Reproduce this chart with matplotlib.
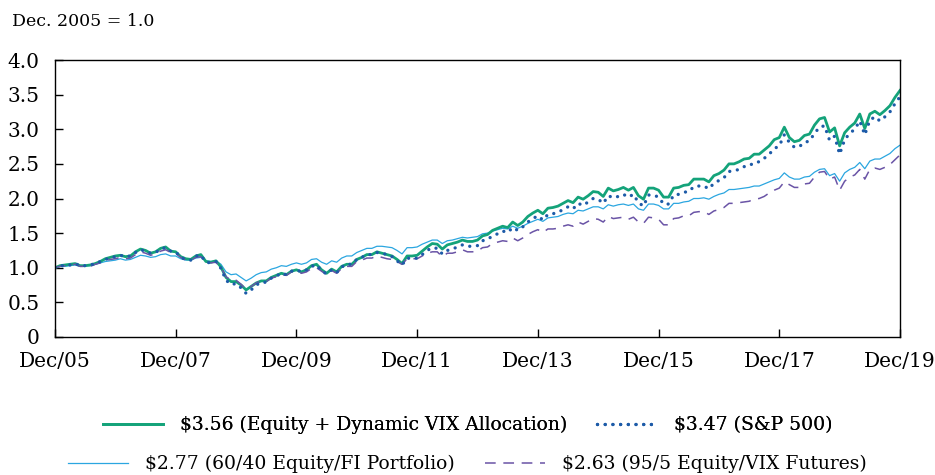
import matplotlib
matplotlib.use("Agg")
import matplotlib.pyplot as plt
import numpy as np

plt.rcParams['font.family'] = ['DejaVu Serif']

# monthly values, Dec 2005 .. Dec 2019 (Dec. 2005 = 1.0)
tick_labels = ['Dec/05', 'Dec/07', 'Dec/09', 'Dec/11', 'Dec/13', 'Dec/15', 'Dec/17', 'Dec/19']

sp500 = [
    1.00,
    1.03, 1.03, 1.04, 1.06, 1.03, 1.03, 1.04, 1.06, 1.09, 1.12, 1.14, 1.16,
    1.18, 1.16, 1.17, 1.22, 1.26, 1.24, 1.21, 1.22, 1.27, 1.29, 1.24, 1.23,
    1.15, 1.12, 1.11, 1.17, 1.18, 1.08, 1.07, 1.09, 0.99, 0.82, 0.76, 0.77,
    0.71, 0.63, 0.68, 0.75, 0.79, 0.79, 0.85, 0.88, 0.92, 0.90, 0.95, 0.97,
    0.94, 0.97, 1.02, 1.04, 0.96, 0.91, 0.97, 0.93, 1.01, 1.05, 1.05, 1.12,
    1.15, 1.19, 1.19, 1.22, 1.21, 1.19, 1.16, 1.10, 1.04, 1.14, 1.13, 1.14,
    1.19, 1.25, 1.29, 1.28, 1.20, 1.25, 1.27, 1.30, 1.33, 1.31, 1.31, 1.32,
    1.39, 1.41, 1.46, 1.49, 1.53, 1.51, 1.58, 1.54, 1.59, 1.66, 1.71, 1.75,
    1.69, 1.77, 1.78, 1.80, 1.84, 1.88, 1.85, 1.93, 1.90, 1.95, 2.00, 1.99,
    1.93, 2.04, 2.01, 2.03, 2.06, 2.02, 2.06, 1.94, 1.89, 2.05, 2.05, 2.02,
    1.92, 1.92, 2.05, 2.06, 2.09, 2.10, 2.17, 2.18, 2.18, 2.14, 2.22, 2.26,
    2.30, 2.39, 2.40, 2.42, 2.46, 2.47, 2.52, 2.53, 2.58, 2.64, 2.72, 2.76,
    2.92, 2.81, 2.74, 2.75, 2.81, 2.83, 2.94, 3.03, 3.05, 2.84, 2.90, 2.64,
    2.85, 2.94, 3.00, 3.12, 2.92, 3.13, 3.18, 3.12, 3.18, 3.25, 3.37, 3.47,
]

equity_vix = [
    1.00,
    1.03, 1.04, 1.05, 1.06, 1.03, 1.03, 1.04, 1.06, 1.09, 1.13, 1.15, 1.17,
    1.18, 1.16, 1.17, 1.23, 1.27, 1.25, 1.21, 1.23, 1.28, 1.30, 1.24, 1.23,
    1.16, 1.13, 1.12, 1.17, 1.19, 1.09, 1.08, 1.10, 1.01, 0.86, 0.80, 0.80,
    0.75, 0.68, 0.73, 0.78, 0.81, 0.81, 0.86, 0.89, 0.92, 0.90, 0.95, 0.97,
    0.94, 0.97, 1.03, 1.05, 0.97, 0.92, 0.98, 0.94, 1.02, 1.05, 1.05, 1.12,
    1.15, 1.19, 1.19, 1.23, 1.21, 1.19, 1.17, 1.12, 1.06, 1.17, 1.17, 1.18,
    1.24, 1.30, 1.35, 1.34, 1.27, 1.33, 1.35, 1.37, 1.40, 1.38, 1.38, 1.40,
    1.46, 1.48, 1.54, 1.57, 1.60, 1.58, 1.66, 1.61, 1.66, 1.74, 1.79, 1.83,
    1.78, 1.86, 1.87, 1.89, 1.93, 1.97, 1.94, 2.02, 1.99, 2.04, 2.10, 2.09,
    2.03, 2.15, 2.11, 2.13, 2.16, 2.12, 2.16, 2.04, 1.99, 2.15, 2.15, 2.12,
    2.02, 2.02, 2.15, 2.16, 2.19, 2.20, 2.28, 2.28, 2.28, 2.24, 2.33, 2.36,
    2.41, 2.50, 2.50, 2.53, 2.57, 2.58, 2.64, 2.64, 2.70, 2.76, 2.85, 2.88,
    3.03, 2.88, 2.82, 2.84, 2.91, 2.93, 3.06, 3.15, 3.17, 2.96, 3.02, 2.76,
    2.95, 3.03, 3.09, 3.22, 3.01, 3.22, 3.26, 3.21, 3.27, 3.34, 3.46, 3.56,
]

sixty_forty = [
    1.00,
    1.02, 1.02, 1.03, 1.04, 1.02, 1.03, 1.03, 1.05, 1.07, 1.09, 1.10, 1.11,
    1.13, 1.11, 1.12, 1.15, 1.18, 1.17, 1.15, 1.16, 1.19, 1.20, 1.17, 1.17,
    1.13, 1.11, 1.11, 1.14, 1.15, 1.10, 1.09, 1.10, 1.05, 0.94, 0.90, 0.91,
    0.86, 0.81, 0.85, 0.90, 0.93, 0.94, 0.98, 1.00, 1.03, 1.02, 1.05, 1.07,
    1.05, 1.07, 1.12, 1.13, 1.08, 1.05, 1.10, 1.08, 1.14, 1.17, 1.17, 1.22,
    1.25, 1.28, 1.28, 1.31, 1.31, 1.30, 1.29, 1.25, 1.20, 1.29, 1.29, 1.30,
    1.34, 1.37, 1.40, 1.40, 1.35, 1.39, 1.40, 1.42, 1.44, 1.43, 1.44, 1.45,
    1.49, 1.50, 1.53, 1.55, 1.57, 1.56, 1.60, 1.57, 1.60, 1.64, 1.67, 1.70,
    1.67, 1.72, 1.73, 1.74, 1.77, 1.79, 1.78, 1.83, 1.82, 1.85, 1.88, 1.88,
    1.85, 1.91, 1.89, 1.91, 1.92, 1.90, 1.92, 1.85, 1.83, 1.92, 1.92, 1.90,
    1.85, 1.85, 1.93, 1.93, 1.95, 1.96, 2.00, 2.00, 2.01, 1.99, 2.03, 2.06,
    2.08, 2.13, 2.13, 2.14, 2.15, 2.16, 2.18, 2.18, 2.21, 2.24, 2.27, 2.29,
    2.37, 2.31, 2.28, 2.28, 2.31, 2.32, 2.38, 2.42, 2.43, 2.33, 2.36, 2.25,
    2.37, 2.42, 2.45, 2.52, 2.43, 2.54, 2.57, 2.57, 2.61, 2.65, 2.72, 2.77,
]

equity_vix_futures = [
    1.00,
    1.02, 1.03, 1.04, 1.05, 1.02, 1.02, 1.02, 1.05, 1.07, 1.10, 1.12, 1.13,
    1.15, 1.13, 1.14, 1.19, 1.23, 1.21, 1.18, 1.20, 1.24, 1.26, 1.22, 1.21,
    1.15, 1.11, 1.11, 1.15, 1.16, 1.08, 1.07, 1.08, 1.00, 0.87, 0.82, 0.82,
    0.76, 0.69, 0.73, 0.78, 0.81, 0.80, 0.85, 0.87, 0.90, 0.89, 0.94, 0.95,
    0.92, 0.94, 0.99, 1.00, 0.95, 0.90, 0.96, 0.92, 0.99, 1.02, 1.02, 1.09,
    1.11, 1.14, 1.14, 1.17, 1.15, 1.13, 1.12, 1.09, 1.05, 1.13, 1.13, 1.13,
    1.17, 1.21, 1.23, 1.23, 1.16, 1.21, 1.21, 1.23, 1.26, 1.23, 1.23, 1.24,
    1.29, 1.30, 1.35, 1.37, 1.39, 1.38, 1.43, 1.39, 1.43, 1.48, 1.52, 1.55,
    1.51, 1.56, 1.56, 1.57, 1.60, 1.62, 1.60, 1.66, 1.63, 1.67, 1.71, 1.70,
    1.66, 1.74, 1.71, 1.72, 1.73, 1.70, 1.73, 1.66, 1.64, 1.73, 1.72, 1.70,
    1.62, 1.62, 1.71, 1.72, 1.75, 1.75, 1.80, 1.81, 1.81, 1.77, 1.82, 1.84,
    1.87, 1.93, 1.93, 1.94, 1.95, 1.96, 1.99, 2.00, 2.03, 2.08, 2.12, 2.15,
    2.24, 2.20, 2.16, 2.16, 2.21, 2.22, 2.31, 2.38, 2.39, 2.28, 2.31, 2.12,
    2.25, 2.31, 2.34, 2.42, 2.28, 2.42, 2.44, 2.42, 2.45, 2.49, 2.56, 2.63,
]

legend_labels = ['$3.56 (Equity + Dynamic VIX Allocation)', '$3.47 (S&P 500)',
                 '$2.77 (60/40 Equity/FI Portfolio)', '$2.63 (95/5 Equity/VIX Futures)']

green = '#14a37a'
navy = '#1d5ba8'
sky = '#2ba6e0'
purple = '#6a54a6'


def do_plot():
    fig = plt.figure(figsize=(9.35, 4.75), dpi=100)
    ax = fig.add_axes([55 / 935, 138 / 475, 845 / 935, 277 / 475])

    months = np.arange(len(sp500))
    l_sky, = ax.plot(months, sixty_forty, color=sky, linewidth=0.9, label=legend_labels[2])
    l_green, = ax.plot(months, equity_vix, color=green, linewidth=2.0, label=legend_labels[0])
    l_purple, = ax.plot(months, equity_vix_futures, color=purple, linewidth=1.1,
                        linestyle=(0, (7, 5)), label=legend_labels[3])
    l_sp, = ax.plot(months, sp500, color=navy, linewidth=2.4, linestyle=(0, (0.01, 2.3)),
                    dash_capstyle='round', label=legend_labels[1])

    ax.set_xlim(0, len(sp500) - 1)
    ax.set_ylim(0, 4)
    ax.set_xticks(np.arange(0, len(sp500), 24))
    ax.set_xticklabels(tick_labels)
    ax.set_yticks(np.arange(0, 4.01, 0.5))
    ax.set_yticklabels(['0'] + ['%.1f' % v for v in np.arange(0.5, 4.01, 0.5)])
    ax.tick_params(axis='both', direction='in', length=6, width=1, labelsize=14.5, colors='black')
    ax.tick_params(axis='x', pad=11)
    ax.tick_params(axis='y', pad=11)
    for s in ax.spines.values():
        s.set_linewidth(1.0)

    fig.text(12 / 935, 1 - 22 / 475, 'Dec. 2005 = 1.0', fontsize=12.5, va='center', ha='left')

    common = dict(loc='center', ncol=2, frameon=False, fontsize=13.5, handlelength=3.2,
                  handletextpad=0.9, columnspacing=1.6, borderaxespad=0)
    leg1 = fig.legend(handles=[l_green, l_sp], bbox_to_anchor=(0.5, 1 - 425 / 475), **common)
    fig.add_artist(leg1)
    fig.legend(handles=[l_sky, l_purple], bbox_to_anchor=(0.5, 1 - 464 / 475), **common)

    plt.savefig('out.png', dpi=100)


if __name__ == "__main__":
    do_plot()
